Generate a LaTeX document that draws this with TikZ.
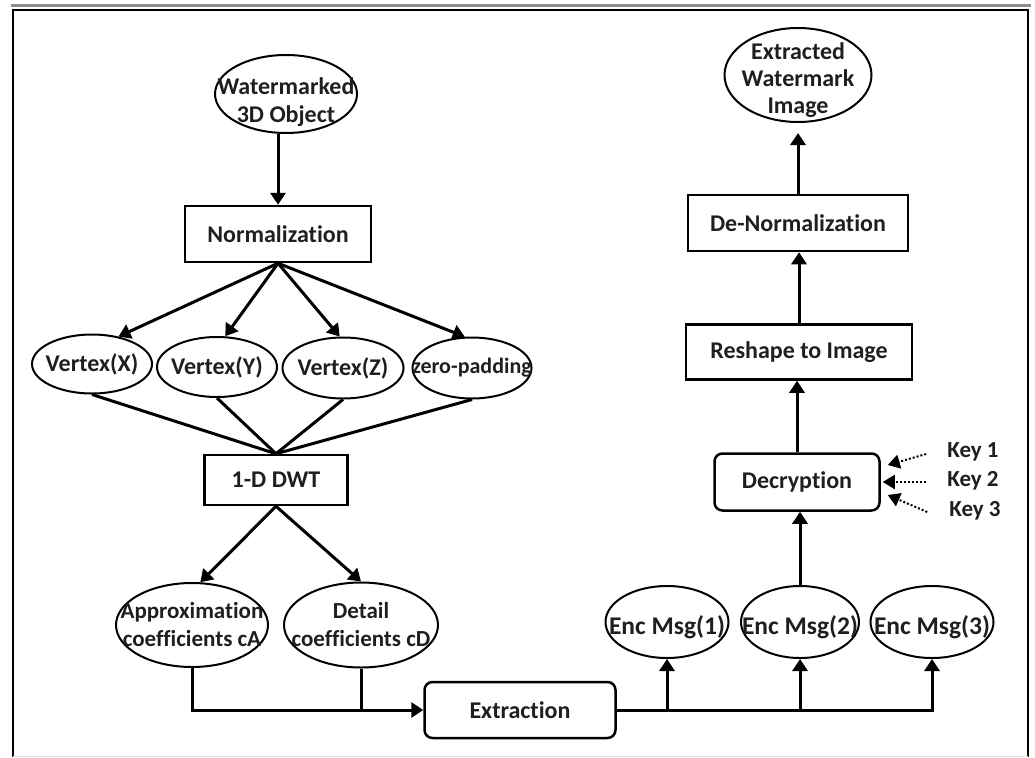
\documentclass[tikz,border=0pt]{standalone}
\usepackage{fontspec}
\setmainfont{Carlito}[Ligatures=NoCommon]
\usetikzlibrary{shapes.geometric,arrows.meta,calc}
\begin{document}
\begin{tikzpicture}[x=1pt,y=-1pt,
  every node/.style={font=\bfseries\fontsize{24}{27.5}\selectfont, text=black!88},
  ell/.style 2 args={ellipse, draw, line width=2pt, minimum width=#1, minimum height=#2, inner sep=0pt},
  box/.style={rectangle, draw, line width=2.5pt, inner sep=0pt},
  rbox/.style={box, rounded corners=8pt},
  conn/.style={line width=3pt, -{Triangle[length=12pt,width=15pt]}},
  plain/.style={line width=3pt},
  keyarr/.style={line width=2pt, dash pattern=on 2pt off 2pt, -{Triangle[length=12pt,width=14pt]}},
  keytxt/.style={inner sep=0pt, font=\bfseries\fontsize{23}{26}\selectfont},
  encf/.style={font=\bfseries\fontsize{25.5}{28}\selectfont, yshift=-5pt}
]
\useasboundingbox (0,0) rectangle (1035,757);
% frame
\draw[line width=3pt, black!45] (11,6) -- (1031,6);
\draw[line width=1.5pt] (13,757) -- (13,10) -- (1028,10) -- (1028,757);
\draw[line width=1pt, black!12] (13,756) -- (1028,756);

% left column
\node[ell={142pt}{78pt}, label={[align=center, yshift=-8pt]center:{Watermarked\\3D Object}}] (wm) at (286,94) {};
\node[box, minimum width=186pt, minimum height=56pt] (norm) at (278,234) {Normalization};
\node[ell={120pt}{59pt}, label={center:Vertex(X)}] (vx) at (92,364) {};
\node[ell={120pt}{60pt}, label={center:Vertex(Y)}] (vy) at (217,367) {};
\node[ell={121pt}{61pt}, label={center:Vertex(Z)}] (vz) at (343,368) {};
\node[ell={119pt}{61pt}, label={[font=\bfseries\fontsize{22}{26}\selectfont]center:zero-padding}] (zp) at (472,368) {};
\node[box, minimum width=143pt, minimum height=50pt] (dwt) at (276,480) {1-D DWT};
\node[ell={152pt}{84pt}, label={[align=center, font=\bfseries\fontsize{23}{28}\selectfont]center:{Approximation\\coefficients cA}}] (apx) at (192,625) {};
\node[ell={154pt}{85pt}, label={[align=center, font=\bfseries\fontsize{23}{28}\selectfont]center:{Detail\\coefficients cD}}] (det) at (361,625) {};
\node[rbox, minimum width=191pt, minimum height=56pt] (ext) at (520,710) {Extraction};

% right column
\node[ell={123pt}{72pt}, label={[encf]center:Enc Msg(1)}] (e1) at (667,622) {};
\node[ell={118pt}{72pt}, label={[encf]center:Enc Msg(2)}] (e2) at (800,622) {};
\node[ell={123pt}{72pt}, label={[encf]center:Enc Msg(3)}] (e3) at (932,622) {};
\node[rbox, minimum width=165pt, minimum height=57pt] (dec) at (797,482) {Decryption};
\node[box, minimum width=226pt, minimum height=55pt] (resh) at (799,352) {Reshape to Image};
\node[box, minimum width=220pt, minimum height=56pt] (dn) at (798,223) {De-Normalization};
\node[ell={147pt}{94pt}, label={[align=center, yshift=-5pt, font=\bfseries\fontsize{24}{27}\selectfont]center:{Extracted\\Watermark\\Image}}] (ewi) at (798,75) {};
\node[keytxt] (k1) at (973,452) {Key 1};
\node[keytxt] (k2) at (973,481) {Key 2};
\node[keytxt] (k3) at (975,511) {Key 3};

% connectors
\draw[conn] (norm.north |- wm.south) -- (norm.north);
\draw[conn] (norm.south) -- (vx.46);
\draw[conn] (norm.south) -- (vy.75);
\draw[conn] (norm.south) -- (vz.96);
\draw[conn] (norm.south) -- (zp.103);
\draw[plain] (vx.south) -- (dwt.north);
\draw[plain] (vy.south) -- (dwt.north);
\draw[plain] (vz.south) -- (dwt.north);
\draw[plain] (zp.south) -- (dwt.north);
\draw[conn] (dwt.south) -- (apx.79);
\draw[conn] (dwt.south) -- (det.north);
\draw[conn] (apx.south) |- (ext.west);
\draw[plain] (det.south) -- (det.south |- ext.west);
\draw[conn] (ext.east) -| (e3.south);
\draw[conn] (e1.south |- ext.east) -- (e1.south);
\draw[conn] (e2.south |- ext.east) -- (e2.south);
\draw[conn] (e2.north) -- (e2.north |- dec.south);
\draw[conn] (dec.north) -- (dec.north |- resh.south);
\draw[conn] (resh.north) -- (resh.north |- dn.south);
\draw[conn, shorten >=10pt] (dn.north) -- (dn.north |- ewi.south);
\draw[keyarr] ($(k1.west)+(-21,2)$) -- ($(dec.east)+(7,-17)$);
\draw[keyarr] ($(k2.west)+(-21,1)$) -- ($(dec.east)+(2,0)$);
\draw[keyarr] ($(k3.west)+(-22,1)$) -- ($(dec.east)+(7,13)$);
\end{tikzpicture}
\end{document}
